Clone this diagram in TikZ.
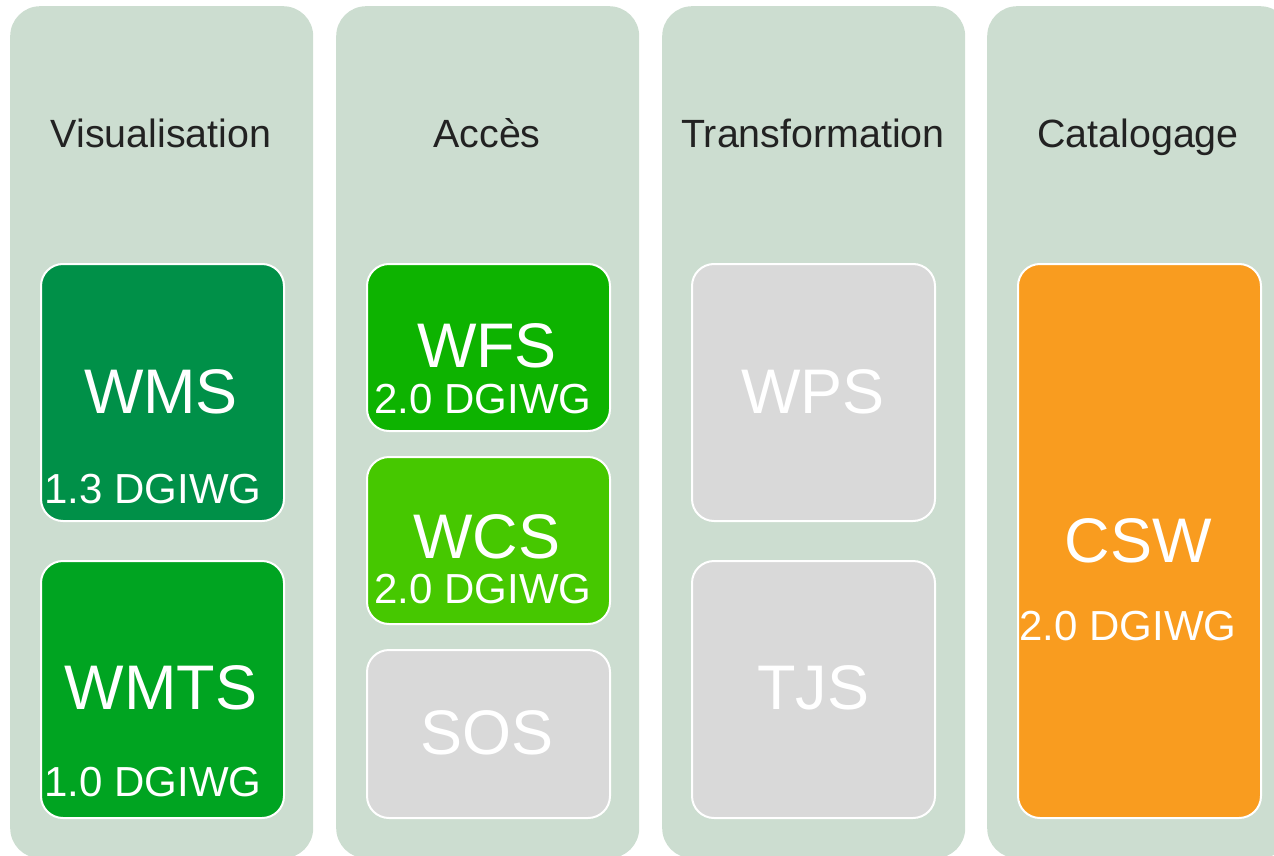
\documentclass[tikz,border=0pt]{standalone}
\usepackage{fontspec}
\setmainfont{Liberation Sans}
\usetikzlibrary{positioning}

\definecolor{colbg}{HTML}{CCDDD0}
\definecolor{wmsgreen}{HTML}{009048}
\definecolor{wmtsgreen}{HTML}{00A421}
\definecolor{wfsgreen}{HTML}{0DB300}
\definecolor{wcsgreen}{HTML}{46C800}
\definecolor{offgray}{HTML}{D9D9D9}
\definecolor{csworange}{HTML}{F99C1F}
\definecolor{headtext}{HTML}{222222}

\tikzset{
  column/.style={fill=colbg, rounded corners=30pt, minimum width=303pt, minimum height=852pt, anchor=north west, inner sep=0},
  svcbox/.style={draw=white, line width=2pt, rounded corners=22pt, minimum width=243pt, anchor=north west, inner sep=0},
  header/.style={anchor=base, inner sep=0, text=headtext, font=\fontsize{39.4}{40}\selectfont},
  svcname/.style={anchor=base, inner sep=0, text=white, font=\fontsize{63}{64}\selectfont},
  svcver/.style={anchor=base, inner sep=0, text=white, font=\fontsize{42}{43}\selectfont}
}

\begin{document}
\begin{tikzpicture}[x=1pt, y=-1pt]
            \useasboundingbox (0,0) rectangle (1274,856);
            \clip (0,0) rectangle (1274,856);

            % colonnes
            \node[column] (visu) at (10,6) {};
            \node[column] (acces) at (336,6) {};
            \node[column] (transfo) at (662,6) {};
            \node[column] (catal) at (987,6) {};

            \node[header] (hvisu) at (161,147) {Visualisation};
            \node[header] (hacces) at (487,147) {Accès};
            \node[header] (htransfo) at (813,147) {Transformation};
            \node[header] (hcatal) at (1138,147) {Catalogage};

            % visualisation
            \node[svcbox, fill=wmsgreen, minimum height=257pt] (wms) at (40,263) {};
            \node[svcname] (wmsname) at (161,413) {WMS};
            \node[svcver] (wmsver) at (153,503) {1.3 DGIWG};
            \node[svcbox, fill=wmtsgreen, minimum height=257pt] (wmts) at (40,560) {};
            \node[svcname] (wmtsname) at (161,709) {WMTS};
            \node[svcver] (wmtsver) at (153,796) {1.0 DGIWG};

            % acces
            \node[svcbox, fill=wfsgreen, minimum height=167pt] (wfs) at (366,263) {};
            \node[svcname] (wfsname) at (487,367) {WFS};
            \node[svcver] (wfsver) at (483,413) {2.0 DGIWG};
            \node[svcbox, fill=wcsgreen, minimum height=167pt] (wcs) at (366,456) {};
            \node[svcname] (wcsname) at (487,558) {WCS};
            \node[svcver] (wcsver) at (483,603) {2.0 DGIWG};
            \node[svcbox, fill=offgray, minimum height=168pt] (sos) at (366,649) {};
            \node[svcname] (sosname) at (487,754) {SOS};

            % transformation
            \node[svcbox, fill=offgray, minimum height=257pt] (wps) at (691,263) {};
            \node[svcname] (wpsname) at (813,413) {WPS};
            \node[svcbox, fill=offgray, minimum height=257pt] (tjs) at (691,560) {};
            \node[svcname] (tjsname) at (813,709) {TJS};

            % catalogage
            \node[svcbox, fill=csworange, minimum height=554pt] (csw) at (1017,263) {};
            \node[svcname] (cswname) at (1138,562) {CSW};
            \node[svcver] (cswver) at (1128,640) {2.0 DGIWG};
        \end{tikzpicture}
\end{document}
